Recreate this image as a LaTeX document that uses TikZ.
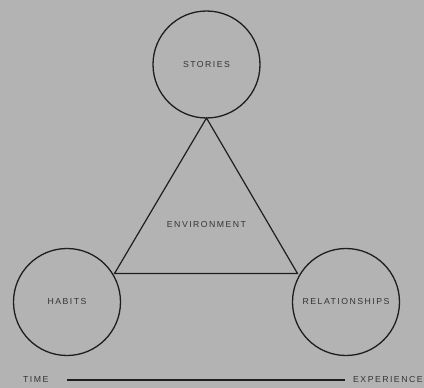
\documentclass[tikz,border=0pt]{standalone}
\usepackage{fontspec}
\setmainfont{Liberation Sans}[LetterSpace=17]
\definecolor{bg}{RGB}{179,179,179}
\definecolor{ink}{RGB}{30,30,30}
\begin{document}
\begin{tikzpicture}[x=1pt,y=-1pt,
  ring/.style={circle,draw=ink,line width=1.3pt,minimum size=107pt,inner sep=0pt,font=\fontsize{8.7}{10}\selectfont,text=ink!90},
  lbl/.style={font=\fontsize{8.7}{10}\selectfont,text=ink!90,inner sep=0pt},
  edge/.style={draw=ink,line width=1.2pt}]
\fill[bg] (0,0) rectangle (424,388);
\useasboundingbox (0,0) rectangle (424,388);
\node[ring] (stories) at (206.5,64.5) {STORIES};
\node[ring] (habits) at (67,302) {HABITS};
\node[ring] (rel) at (346,302) {RELATIONSHIPS};
\coordinate (top) at (206.5,118);
\coordinate (left) at (114.5,273.5);
\coordinate (right) at (297.5,273.5);
\draw[edge,line join=miter] (top) -- (left) -- (right) -- cycle;
\node[lbl] (env) at (206.5,225) {ENVIRONMENT};
\node[lbl,anchor=west] (time) at (23,380) {TIME};
\node[lbl,anchor=west] (exp) at (353,380) {EXPERIENCE};
\coordinate (l1) at (67,380);
\coordinate (l2) at (345,380);
\draw[draw=ink,line width=1.6pt] (l1) -- (l2);
\end{tikzpicture}
\end{document}
